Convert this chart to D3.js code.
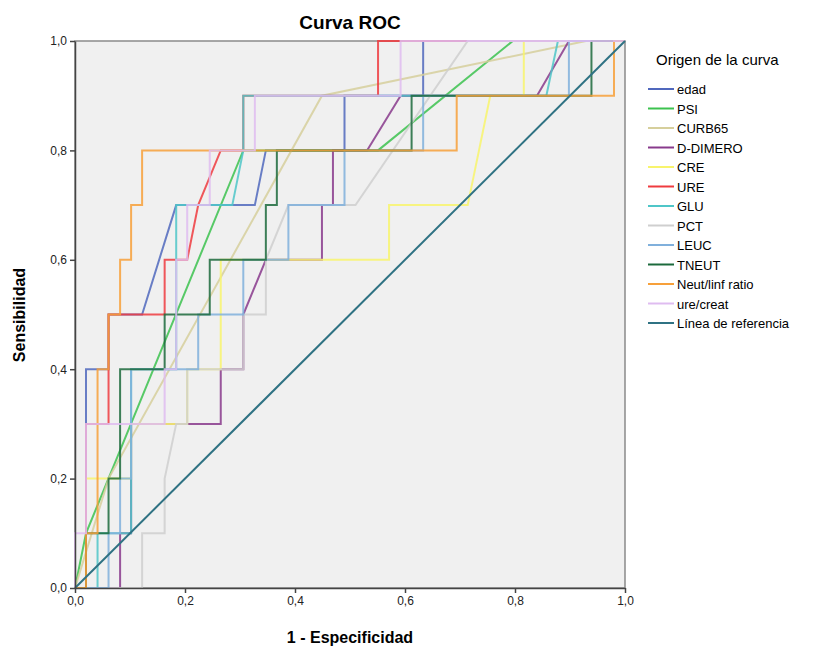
<!DOCTYPE html>
<html>
<head>
<meta charset="utf-8">
<script src="https://cdn.jsdelivr.net/npm/d3@7"></script>
<style>
  body { margin: 0; background: white; font-family: "Liberation Sans", Arial, sans-serif; }
</style>
</head>
<body>
<div id="vis"></div>
<script>
// curve points: [1 - especificidad, sensibilidad]
let edad = [[0,0],[0.02,0],[0.02,0.4],[0.061,0.4],[0.061,0.5],[0.122,0.5],[0.184,0.7],[0.327,0.7],[0.347,0.8],[0.49,0.8],[0.49,0.9],[0.633,0.9],[0.633,1],[1,1]];
let psi = [[0,0],[0.02,0.1],[0.306,0.8],[0.551,0.8],[0.796,1],[1,1]];
let curb65 = [[0,0],[0.061,0.2],[0.449,0.9],[0.929,1],[1,1]];
let dDimero = [[0,0],[0.082,0],[0.082,0.1],[0.102,0.1],[0.102,0.3],[0.265,0.3],[0.265,0.4],[0.306,0.4],[0.306,0.5],[0.347,0.6],[0.449,0.6],[0.449,0.7],[0.469,0.7],[0.469,0.8],[0.531,0.8],[0.592,0.9],[0.84,0.9],[0.898,1],[1,1]];
let cre = [[0,0],[0.02,0],[0.02,0.2],[0.102,0.2],[0.102,0.3],[0.204,0.3],[0.204,0.4],[0.265,0.4],[0.265,0.6],[0.571,0.6],[0.571,0.7],[0.714,0.7],[0.755,0.9],[0.816,0.9],[0.816,1],[1,1]];
let ure = [[0,0],[0.02,0],[0.02,0.3],[0.061,0.3],[0.061,0.5],[0.163,0.5],[0.163,0.6],[0.204,0.6],[0.224,0.7],[0.265,0.8],[0.306,0.8],[0.306,0.9],[0.551,0.9],[0.551,1],[1,1]];
let glu = [[0,0],[0.041,0],[0.041,0.1],[0.102,0.1],[0.102,0.4],[0.184,0.4],[0.184,0.7],[0.286,0.7],[0.306,0.8],[0.306,0.9],[0.857,0.9],[0.878,1],[1,1]];
let pct = [[0,0],[0.122,0],[0.122,0.1],[0.163,0.1],[0.163,0.2],[0.184,0.3],[0.204,0.3],[0.204,0.4],[0.306,0.4],[0.306,0.5],[0.347,0.5],[0.347,0.6],[0.388,0.7],[0.51,0.7],[0.714,1],[1,1]];
let leuc = [[0,0],[0.061,0],[0.061,0.1],[0.082,0.1],[0.082,0.2],[0.102,0.2],[0.102,0.4],[0.224,0.4],[0.224,0.5],[0.306,0.5],[0.306,0.6],[0.388,0.6],[0.388,0.7],[0.49,0.7],[0.49,0.8],[0.633,0.8],[0.633,0.9],[0.898,0.9],[0.898,1],[1,1]];
let tneut = [[0,0],[0.02,0],[0.02,0.1],[0.061,0.1],[0.061,0.2],[0.082,0.2],[0.082,0.4],[0.163,0.4],[0.163,0.5],[0.245,0.5],[0.245,0.6],[0.347,0.6],[0.347,0.7],[0.367,0.7],[0.367,0.8],[0.612,0.8],[0.612,0.9],[0.939,0.9],[0.939,1],[1,1]];
let neutLinf = [[0,0],[0.02,0],[0.02,0.1],[0.041,0.1],[0.041,0.4],[0.061,0.4],[0.061,0.5],[0.082,0.5],[0.082,0.6],[0.102,0.6],[0.102,0.7],[0.122,0.7],[0.122,0.8],[0.694,0.8],[0.694,0.9],[0.98,0.9],[0.98,1],[1,1]];
let ureCreat = [[0,0],[0,0.1],[0.02,0.1],[0.02,0.3],[0.163,0.3],[0.163,0.4],[0.184,0.4],[0.184,0.6],[0.204,0.6],[0.204,0.7],[0.245,0.7],[0.245,0.8],[0.327,0.8],[0.327,0.9],[0.592,0.9],[0.592,1],[1,1]];
let referencia = [[0,0],[1,1]];

let curveNames = ['edad','PSI','CURB65','D-DIMERO','CRE','URE','GLU','PCT','LEUC','TNEUT','Neut/linf ratio','ure/creat','Línea de referencia'];
let curveData = [edad, psi, curb65, dDimero, cre, ure, glu, pct, leuc, tneut, neutLinf, ureCreat, referencia];
let curveColors = ['#5068bd','#3cc24f','#d6cf9c','#883a8c','#f8f46c','#ef3b3f','#4fc6c8','#cfcfcf','#80b0dc','#1c6a3c','#f7a03a','#dfbcf0','#2f7283'];
let ticks = [0, 0.2, 0.4, 0.6, 0.8, 1.0];

let margin = { top: 41, left: 75, right: 191, bottom: 65 },
  width = 816 - margin.left - margin.right,
  height = 653 - margin.top - margin.bottom;

let svg = d3.select('#vis')
  .append('svg')
  .attr('width', 816)
  .attr('height', 653)
  .style('background-color', 'white');

let x = d3.scaleLinear().domain([0, 1]).range([margin.left, margin.left + width]);
let y = d3.scaleLinear().domain([0, 1]).range([margin.top + height, margin.top]);
let fmt = d => d3.format('.1f')(d).replace('.', ',');

// plot background + frame
svg.append('rect')
  .attr('x', x(0)).attr('y', y(1))
  .attr('width', x(1) - x(0)).attr('height', y(0) - y(1))
  .attr('fill', '#f0f0f0')
  .attr('stroke', '#8a8a8a')
  .attr('stroke-width', 1.5);

let line = d3.line().x(d => x(d[0])).y(d => y(d[1]));

svg.selectAll('path.curve')
  .data(curveData)
  .enter()
  .append('path')
  .attr('class', 'curve')
  .attr('d', line)
  .attr('fill', 'none')
  .attr('stroke', (d, i) => curveColors[i])
  .attr('stroke-width', 2)
  .attr('stroke-opacity', (d, i) => i == 12 ? 1 : 0.85);

// axes
svg.append('g')
  .attr('transform', `translate(0,${y(0)})`)
  .call(d3.axisBottom(x).tickValues(ticks).tickFormat(fmt).tickSize(5).tickSizeOuter(0))
  .call(g => g.selectAll('text').attr('font-size', 12).attr('fill', '#222').attr('font-family', 'Liberation Sans, Arial'))
  .call(g => g.selectAll('line, path').attr('stroke', '#444').attr('stroke-width', 1.5));

svg.append('g')
  .attr('transform', `translate(${x(0)},0)`)
  .call(d3.axisLeft(y).tickValues(ticks).tickFormat(fmt).tickSize(5).tickSizeOuter(0))
  .call(g => g.selectAll('text').attr('font-size', 12).attr('fill', '#222').attr('font-family', 'Liberation Sans, Arial'))
  .call(g => g.selectAll('line, path').attr('stroke', '#444').attr('stroke-width', 1.5));

// titles
svg.append('text')
  .attr('x', 350).attr('y', 29)
  .attr('text-anchor', 'middle')
  .attr('font-size', 19).attr('font-weight', 'bold')
  .text('Curva ROC');

svg.append('text')
  .attr('x', 350).attr('y', 643)
  .attr('text-anchor', 'middle')
  .attr('font-size', 16).attr('font-weight', 'bold')
  .text('1 - Especificidad');

svg.append('text')
  .attr('transform', 'translate(25,315) rotate(-90)')
  .attr('text-anchor', 'middle')
  .attr('font-size', 16).attr('font-weight', 'bold')
  .text('Sensibilidad');

// legend
let legend = svg.append('g').attr('transform', 'translate(648,0)');
legend.append('text')
  .attr('x', 8).attr('y', 65)
  .attr('font-size', 15)
  .text('Origen de la curva');

let items = legend.selectAll('g.item')
  .data(curveNames)
  .enter()
  .append('g')
  .attr('class', 'item')
  .attr('transform', (d, i) => `translate(0,${89 + i * 19.5})`);

items.append('line')
  .attr('x1', 0).attr('x2', 26)
  .attr('stroke', (d, i) => curveColors[i])
  .attr('stroke-width', 2);

items.append('text')
  .attr('x', 29).attr('y', 5)
  .attr('font-size', 13)
  .text(d => d);
</script>
</body>
</html>
